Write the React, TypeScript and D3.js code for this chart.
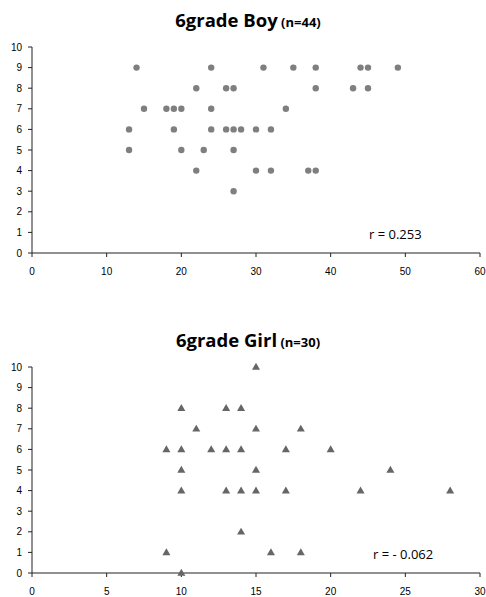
import React from "react";
import * as d3 from "d3";

// boy: x score, y score (n=44, some points overlap)
const boyX = [13, 13, 14, 15, 18, 19, 19, 20, 20, 22, 22, 23, 24, 24, 24, 26, 26, 27, 27, 27, 27, 28, 30, 30, 31, 32, 32, 34, 35, 37, 38, 38, 38, 43, 44, 45, 45, 49];
const boyY = [6, 5, 9, 7, 7, 7, 6, 7, 5, 8, 4, 5, 9, 7, 6, 8, 6, 8, 6, 5, 3, 6, 6, 4, 9, 6, 4, 7, 9, 4, 9, 8, 4, 8, 9, 9, 8, 9];

// girl (n=30)
const girlX = [9, 9, 10, 10, 10, 10, 10, 11, 12, 13, 13, 13, 14, 14, 14, 14, 15, 15, 15, 15, 16, 17, 17, 18, 18, 20, 22, 24, 28];
const girlY = [6, 1, 8, 6, 5, 4, 0, 7, 6, 8, 6, 4, 8, 6, 4, 2, 10, 7, 5, 4, 1, 6, 4, 7, 1, 6, 4, 5, 4];

const boyXTicks = [0, 10, 20, 30, 40, 50, 60];
const girlXTicks = [0, 5, 10, 15, 20, 25, 30];
const yTicks = [0, 1, 2, 3, 4, 5, 6, 7, 8, 9, 10];

const TICK_FONT = "'Liberation Sans', Arial, sans-serif";
const TITLE_FONT = "'Open Sans', 'Noto Sans', sans-serif";

type PanelProps = {
  title: string;
  n: string;
  xs: number[];
  ys: number[];
  xMax: number;
  xTicks: number[];
  top: number;
  rLabel: string;
  marker: "circle" | "triangle";
};

function Panel({ title, n, xs, ys, xMax, xTicks, top, rLabel, marker }: PanelProps) {
  const x = d3.scaleLinear().domain([0, xMax]).range([32, 480]);
  const y = d3.scaleLinear().domain([0, 10]).range([top + 206, top]);
  const tri = d3.symbol().type(d3.symbolTriangle).size(28)();
  const axisColor = "#222";

  return (
    <g>
      <text
        x={248}
        y={top - 20}
        textAnchor="middle"
        fontFamily={TITLE_FONT}
        fontWeight="bold"
        fontSize={18.5}
        fill="#000"
      >
        {title}
        <tspan fontSize={13}>{" " + n}</tspan>
      </text>

      {/* y axis */}
      <line x1={32} x2={32} y1={y(10)} y2={y(0)} stroke={axisColor} />
      {yTicks.map((t) => (
        <g key={"y" + t}>
          <line x1={28} x2={32} y1={y(t)} y2={y(t)} stroke={axisColor} />
          <text
            x={22}
            y={y(t)}
            dy="0.35em"
            textAnchor="end"
            fontFamily={TICK_FONT}
            fontSize={10}
          >
            {t}
          </text>
        </g>
      ))}

      {/* x axis */}
      <line x1={x(0)} x2={x(xMax)} y1={y(0)} y2={y(0)} stroke={axisColor} />
      {xTicks.map((t) => (
        <g key={"x" + t}>
          <line x1={x(t)} x2={x(t)} y1={y(0)} y2={y(0) + 4} stroke={axisColor} />
          <text
            x={x(t)}
            y={y(0) + 22}
            textAnchor="middle"
            fontFamily={TICK_FONT}
            fontSize={10}
          >
            {t}
          </text>
        </g>
      ))}

      {xs.map((v, i) =>
        marker === "circle" ? (
          <circle key={i} cx={x(v)} cy={y(ys[i])} r={3.2} fill="#7f7f7f" />
        ) : (
          <path
            key={i}
            d={tri ?? ""}
            transform={`translate(${x(v)},${y(ys[i]) + 0.5})`}
            fill="#666"
          />
        )
      )}

      <text
        x={marker === "circle" ? 369 : 373}
        y={y(0) - 14}
        fontFamily={TITLE_FONT}
        fontSize={13}
        fill="#000"
      >
        {rLabel}
      </text>
    </g>
  );
}

export default function App() {
  return (
    <svg
      width={486}
      height={597}
      style={{ position: "absolute", left: 0, top: 0, background: "#fff" }}
    >
      <Panel
        title="6grade Boy"
        n="(n=44)"
        xs={boyX}
        ys={boyY}
        xMax={60}
        xTicks={boyXTicks}
        top={47}
        rLabel="r = 0.253"
        marker="circle"
      />
      <Panel
        title="6grade Girl"
        n="(n=30)"
        xs={girlX}
        ys={girlY}
        xMax={30}
        xTicks={girlXTicks}
        top={367}
        rLabel="r = - 0.062"
        marker="triangle"
      />
    </svg>
  );
}
